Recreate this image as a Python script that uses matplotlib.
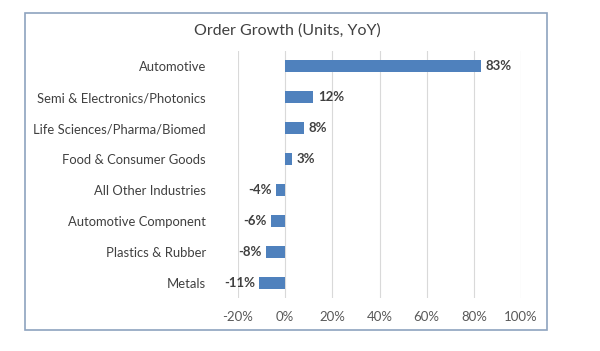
import matplotlib.pyplot as plt
from matplotlib.patches import Rectangle

categories = ['Automotive', 'Semi & Electronics/Photonics', 'Life Sciences/Pharma/Biomed',
              'Food & Consumer Goods', 'All Other Industries', 'Automotive Component',
              'Plastics & Rubber', 'Metals']
growth = [83, 12, 8, 3, -4, -6, -8, -11]
xticks = [-20, 0, 20, 40, 60, 80, 100]

plt.rcParams['font.family'] = ['Lato', 'DejaVu Sans']

fig = plt.figure(figsize=(6, 3.51), dpi=100)
ax = fig.add_axes([0.3967, 0.1496, 0.4716, 0.7065])

# border around chart
fig.patches.append(Rectangle((25/600, 1-330/351), 522/600, 317/351, transform=fig.transFigure,
                             fill=False, edgecolor='#8EA3BF', linewidth=1.2))

ypos = list(range(len(categories)))
ax.barh(ypos, growth, height=0.36, color='#4F81BD', zorder=3)
ax.set_ylim(len(categories) - 0.5, -0.5)
ax.set_xlim(-20, 100)
ax.set_xticks(xticks)
ax.set_xticklabels([f'{t}%' for t in xticks])
ax.set_yticks(ypos)
ax.set_yticklabels(categories)
ax.tick_params(axis='y', length=0, pad=23, labelsize=9.4, labelcolor='#404040')
ax.tick_params(axis='x', length=0, pad=9, labelsize=9.5, labelcolor='#595959')
ax.grid(axis='x', color='#D9D9D9', linewidth=0.8, zorder=0)
for s in ax.spines.values():
    s.set_visible(False)

for y, v in zip(ypos, growth):
    if v >= 0:
        ax.text(v + 1.8, y, f'{v}%', va='center', ha='left', fontsize=9.5, fontweight='bold', color='#404040')
    else:
        ax.text(v - 1.8, y, f'{v}%', va='center', ha='right', fontsize=9.5, fontweight='bold', color='#404040')

fig.text(287/600, 1-31/351, 'Order Growth (Units, YoY)', ha='center', va='center', fontsize=11.5, color='#404040')

fig.savefig('out.png', dpi=100)
